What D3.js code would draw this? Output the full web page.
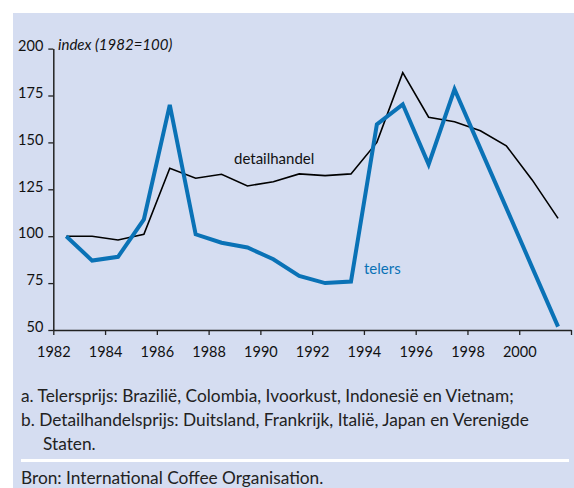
<!DOCTYPE html>
<html>
<head>
<meta charset="utf-8">
<script src="https://cdn.jsdelivr.net/npm/d3@7"></script>
<style>
  body { margin: 0; background: #ffffff; }
  svg { display: block; font-family: Lato, "Open Sans", sans-serif; }
</style>
</head>
<body>
<svg id="chart" width="574" height="488"></svg>
<script>
// ---- data ----
const years = [1982.5, 1983.5, 1984.5, 1985.5, 1986.5, 1987.5, 1988.5, 1989.5, 1990.5, 1991.5,
               1992.5, 1993.5, 1994.5, 1995.5, 1996.5, 1997.5, 1998.5, 1999.5, 2000.5, 2001.5];
const telers = [100, 87, 89, 109, 170, 101, 96.5, 94, 87.7, 78.8,
                75, 75.8, 159.6, 170.3, 138.3, 178.3, 146.7, 115.1, 83.4, 51.8];
const detailhandel = [100, 100, 98, 101, 136.2, 130.9, 133, 126.8, 129, 133.2,
                      132.3, 133.2, 150, 187.2, 163.4, 161, 156.2, 148.2, 130, 109.5];
const yTicks = [50, 75, 100, 125, 150, 175, 200];
const xTicks = [1982, 1984, 1986, 1988, 1990, 1992, 1994, 1996, 1998, 2000, 2002];
const xLabels = [1982, 1984, 1986, 1988, 1990, 1992, 1994, 1996, 1998, 2000];
const yAxisTitle = "index (1982=100)";
const seriesLabels = ["telers", "detailhandel"];
const notes = [
  "a. Telersprijs: Brazilië, Colombia, Ivoorkust, Indonesië en Vietnam;",
  "b. Detailhandelsprijs: Duitsland, Frankrijk, Italië, Japan en Verenigde",
  "Staten."
];
const source = "Bron: International Coffee Organisation.";

// ---- layout ----
const svg = d3.select("#chart");
const W = 574, H = 488;
const bg = "#d5ddf1";
const blue = "#0a72b6";
const axisColor = "#222";

svg.append("rect").attr("x", 13).attr("y", 13).attr("width", W - 13).attr("height", H - 13).attr("fill", bg);

const x = d3.scaleLinear().domain([1982, 2002]).range([53.3, 571]);
const y = d3.scaleLinear().domain([50, 200]).range([330, 48.6]);

// y axis
const yAxis = d3.axisLeft(y).tickValues(yTicks).tickSize(5).tickSizeOuter(0).tickPadding(5);
const gy = svg.append("g").attr("transform", `translate(${x(1982)},0)`).call(yAxis);
gy.select(".domain").attr("stroke", axisColor).attr("stroke-width", 1.5);
gy.selectAll(".tick line").attr("stroke", axisColor).attr("stroke-width", 1.3);
gy.selectAll(".tick text").attr("fill", "#111").attr("font-size", 14.5)
  .attr("font-family", "Lato, sans-serif").attr("dy", "0.12em");

// x axis
const xAxis = d3.axisBottom(x).tickValues(xTicks).tickSize(5).tickSizeOuter(0).tickPadding(12)
  .tickFormat(d => xLabels.includes(d) ? String(d) : "");
const gx = svg.append("g").attr("transform", `translate(0,${y(50)})`).call(xAxis);
gx.select(".domain").attr("stroke", axisColor).attr("stroke-width", 1.5);
gx.selectAll(".tick line").attr("stroke", axisColor).attr("stroke-width", 1.3);
gx.selectAll(".tick text").attr("fill", "#111").attr("font-size", 14.5)
  .attr("font-family", "Lato, sans-serif");

// axis title
svg.append("text").attr("x", 58).attr("y", 50).attr("font-size", 15)
  .attr("font-style", "italic").attr("fill", "#111").text(yAxisTitle);

// lines
const line = d3.line().x((d, i) => x(years[i])).y(d => y(d));
svg.append("path").datum(detailhandel).attr("d", line)
  .attr("fill", "none").attr("stroke", "#000").attr("stroke-width", 1.6).attr("stroke-linejoin", "miter");
svg.append("path").datum(telers).attr("d", line)
  .attr("fill", "none").attr("stroke", blue).attr("stroke-width", 4).attr("stroke-linejoin", "miter");

// series labels
svg.append("text").attr("x", 234).attr("y", 164).attr("font-size", 15).attr("fill", "#111").text(seriesLabels[1]);
svg.append("text").attr("x", 364).attr("y", 274).attr("font-size", 15).attr("fill", blue).text(seriesLabels[0]);

// notes
const noteY = [401.5, 425.7, 450];
const noteX = [21, 21, 43];
notes.forEach((t, i) => {
  svg.append("text").attr("x", noteX[i]).attr("y", noteY[i]).attr("font-size", 17.3)
    .attr("fill", "#222").text(t);
});
svg.append("rect").attr("x", 21).attr("y", 459).attr("width", 548).attr("height", 3).attr("fill", "#ffffff");
svg.append("text").attr("x", 21).attr("y", 484).attr("font-size", 17.3).attr("fill", "#222").text(source);
</script>
</body>
</html>
